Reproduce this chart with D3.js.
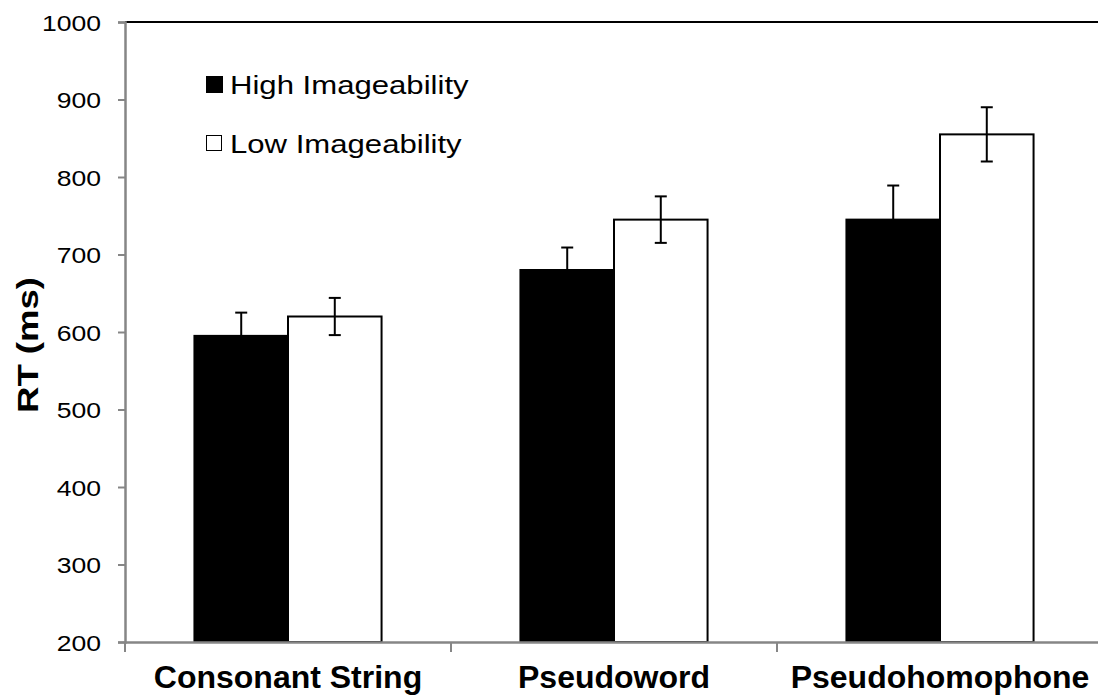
<!DOCTYPE html>
<html>
<head>
<meta charset="utf-8">
<script src="https://cdn.jsdelivr.net/npm/d3@7"></script>
<style>
  body { margin: 0; background: #fff; }
  text { font-family: Arial, "Liberation Sans", sans-serif; }
</style>
</head>
<body>
<div id="chart"></div>
<script>
// data
const categories = ['Consonant String', 'Pseudoword', 'Pseudohomophone'];
const seriesNames = ['High Imageability', 'Low Imageability'];
const highValues = [595, 680, 745];
const highErrors = [30, 29, 44];
const lowValues = [620, 745, 855];
const lowErrors = [24, 30, 35];
const yTicks = [200, 300, 400, 500, 600, 700, 800, 900, 1000];

const margin = { top: 22, right: -5, bottom: 58, left: 125 };
const width = 1098 - margin.left - margin.right;
const height = 700 - margin.top - margin.bottom;

const svg = d3.select('#chart')
    .append('svg')
    .attr('width', 1098)
    .attr('height', 700);

const group = svg.append('g')
    .attr('transform', 'translate(' + margin.left + ',' + margin.top + ')');

// scales
const xScale = d3.scaleBand().domain(categories).range([0, width]);
const bw = xScale.bandwidth();
const xInner = d3.scaleBand().domain([0, 1]).range([bw * 0.213, bw * 0.787]);
const yScale = d3.scaleLinear().domain([200, 1000]).range([height, 0]);

const rows = [];
categories.forEach((c, i) => {
    rows.push({ cat: c, s: 0, v: highValues[i], e: highErrors[i] });
    rows.push({ cat: c, s: 1, v: lowValues[i], e: lowErrors[i] });
});

// top border of plot area
group.append('line')
    .attr('x1', 0).attr('x2', width)
    .attr('y1', 0).attr('y2', 0)
    .attr('stroke', '#000').attr('stroke-width', 2);

// bars
group.selectAll('rect.bar')
    .data(rows)
    .enter()
    .append('rect')
    .attr('class', 'bar')
    .attr('x', d => xScale(d.cat) + xInner(d.s))
    .attr('y', d => yScale(d.v))
    .attr('width', xInner.bandwidth())
    .attr('height', d => height - yScale(d.v))
    .attr('fill', d => d.s === 0 ? '#000' : '#fff')
    .attr('stroke', '#000')
    .attr('stroke-width', 2);

// error bars
const err = group.selectAll('g.err')
    .data(rows)
    .enter()
    .append('g')
    .attr('class', 'err')
    .attr('transform', d => 'translate(' + (xScale(d.cat) + xInner(d.s) + xInner.bandwidth() / 2) + ',0)');

err.append('line')
    .attr('x1', 0).attr('x2', 0)
    .attr('y1', d => yScale(d.v + d.e))
    .attr('y2', d => yScale(d.v - d.e))
    .attr('stroke', '#000').attr('stroke-width', 2);

[1, -1].forEach(sign => {
    err.append('line')
        .attr('x1', -6).attr('x2', 6)
        .attr('y1', d => yScale(d.v + sign * d.e))
        .attr('y2', d => yScale(d.v + sign * d.e))
        .attr('stroke', '#000').attr('stroke-width', 2);
});

// y axis
const yAxis = d3.axisLeft(yScale).tickValues(yTicks).tickSize(7).tickPadding(0).tickFormat(d3.format('d'));
const yAxisGroup = group.append('g').attr('class', 'y-axis').call(yAxis);
yAxisGroup.select('.domain').attr('stroke', '#868686').attr('stroke-width', 2.5);
yAxisGroup.selectAll('.tick line').attr('stroke', '#868686').attr('stroke-width', 2);
yAxisGroup.selectAll('.tick text')
    .attr('x', null).attr('dy', null)
    .attr('fill', '#000')
    .attr('font-size', 22.5)
    .attr('text-anchor', 'end')
    .attr('transform', 'translate(-24,8) scale(1.18,1)');

// x axis
const xAxis = d3.axisBottom(xScale).tickSize(0).tickFormat('');
const xAxisGroup = group.append('g')
    .attr('class', 'x-axis')
    .attr('transform', 'translate(0,' + height + ')')
    .call(xAxis);
xAxisGroup.select('.domain').attr('stroke', '#868686').attr('stroke-width', 2.5);

// category separators
group.selectAll('line.sep')
    .data(categories)
    .enter()
    .append('line')
    .attr('class', 'sep')
    .attr('x1', d => xScale(d)).attr('x2', d => xScale(d))
    .attr('y1', height).attr('y2', height + 10)
    .attr('stroke', '#868686').attr('stroke-width', 2);

group.selectAll('text.cat')
    .data(categories)
    .enter()
    .append('text')
    .attr('class', 'cat')
    .attr('x', d => xScale(d) + bw / 2)
    .attr('y', height + 46)
    .attr('text-anchor', 'middle')
    .attr('font-size', 32)
    .attr('font-weight', 'bold')
    .text(d => d);

// y title
svg.append('text')
    .attr('transform', 'translate(38,345) rotate(-90)')
    .attr('x', -68)
    .attr('font-size', 30)
    .attr('font-weight', 'bold')
    .attr('textLength', 136)
    .attr('lengthAdjust', 'spacingAndGlyphs')
    .text('RT (ms)');

// legend
const legend = svg.selectAll('g.legend')
    .data(seriesNames)
    .enter()
    .append('g')
    .attr('class', 'legend')
    .attr('transform', (d, i) => 'translate(206,' + (76 + i * 59) + ')');

legend.append('rect')
    .attr('x', 0.5).attr('y', 0.5)
    .attr('width', (d, i) => i === 0 ? 16 : 15)
    .attr('height', (d, i) => i === 0 ? 16 : 15)
    .attr('fill', (d, i) => i === 0 ? '#000' : '#fff')
    .attr('stroke', '#000')
    .attr('stroke-width', 1);

legend.append('text')
    .attr('transform', 'translate(24,17.5) scale(1.22,1)')
    .attr('font-size', 25.5)
    .text(d => d);
</script>
</body>
</html>
